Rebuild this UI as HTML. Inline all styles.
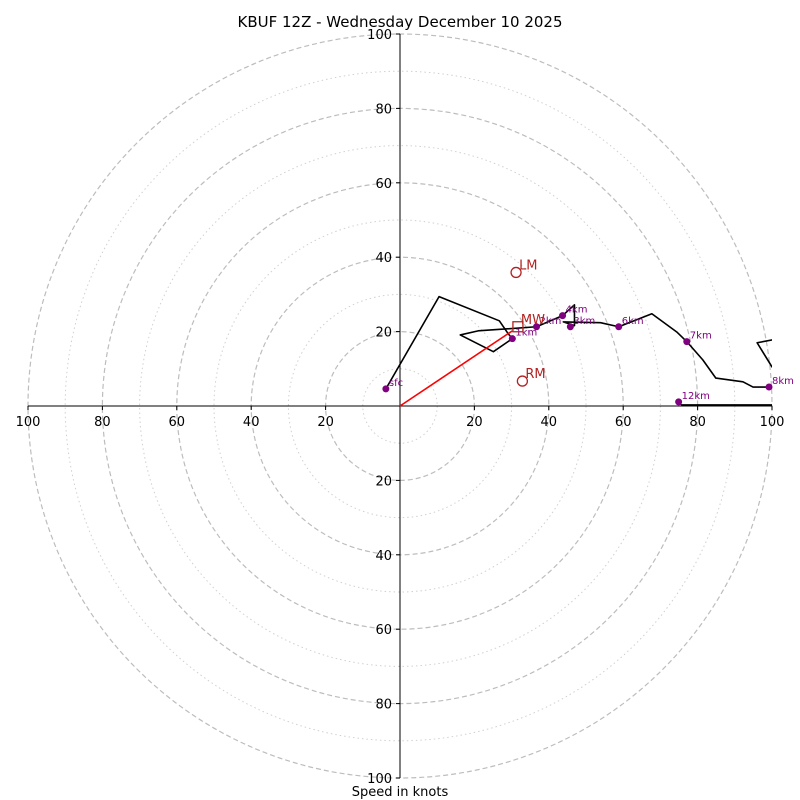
<!DOCTYPE html>
<html><head><meta charset="utf-8"><style>
html,body{margin:0;padding:0;background:#fff;}
svg{display:block;font-family:"DejaVu Sans","Liberation Sans",sans-serif;}
</style></head><body>
<svg id="chart" width="800" height="800" xmlns="http://www.w3.org/2000/svg">
<defs><clipPath id="clip"><rect x="28" y="34" width="744" height="744"/></clipPath></defs>
<text x="400" y="27" text-anchor="middle" font-size="15">KBUF 12Z - Wednesday December 10 2025</text>
<text x="400" y="796" text-anchor="middle" font-size="13">Speed in knots</text>
<g id="rings"></g>
<g id="axes"></g>
<g id="series" clip-path="url(#clip)"></g>
<g id="markers"></g>
</svg>
<script>
const ringValues=[10,20,30,40,50,60,70,80,90,100];
const tickValues=[20,40,60,80,100];
const traceU=[-3.8,10.5,26.7,29.1,30.2,25.1,16.2,21.0,36.7,43.7,46.9,46.9,43.9,53.9,58.8,67.7,74.4,77.1,81.4,84.9,92.2,94.9,99.2,105,105,100,96,100.3,115.9,115.9,75.7,74.9];
const traceV=[4.6,29.4,22.9,19.4,18.1,14.6,19.1,20.2,21.3,24.3,27.2,21.6,22.6,22.4,21.3,24.8,19.9,17.3,12.4,7.5,6.5,5.1,5.1,5.7,12.4,10.5,17,17.8,23,0.3,0.3,1.1];
const levelLabels=["sfc","1km","2km","3km","4km","6km","7km","8km","12km"];
const levelU=[-3.8,30.2,36.7,45.8,43.7,58.8,77.1,99.2,74.9];
const levelV=[4.6,18.1,21.3,21.3,24.3,21.3,17.3,5.1,1.1];
const motionLabels=["LM","RM","MW"];
const motionU=[31.2,32.9,31.7];
const motionV=[35.9,6.7,21.3];
const shearU=[0,30.2];
const shearV=[0,20.2];

const cx=400,cy=406,k=3.72;
const sx=u=>cx+u*k, sy=v=>cy-v*k;
const NS="http://www.w3.org/2000/svg";
function mk(tag,parent,attrs){const e=document.createElementNS(NS,tag);for(const a in attrs)e.setAttribute(a,attrs[a]);parent.appendChild(e);return e;}
const rings=document.getElementById('rings'),axes=document.getElementById('axes'),series=document.getElementById('series'),markers=document.getElementById('markers');
ringValues.forEach(r=>{
  const dashed=r%20===0;
  const c=mk('circle',rings,{cx:cx,cy:cy,r:r*k,fill:'none',stroke:dashed?'#bdbdbd':'#d0d0d0','stroke-width':dashed?1.2:1,'stroke-dasharray':dashed?'5,3':'1.5,3'});
  
  
});
let l=mk('line',axes,{x1:sx(-100),y1:cy,x2:sx(100),y2:cy,stroke:'#000','stroke-width':1});


l=mk('line',axes,{x1:cx,y1:sy(100),x2:cx,y2:sy(-100),stroke:'#000','stroke-width':1});


tickValues.forEach(t=>{
  [1,-1].forEach(s=>{
    let tk=mk('line',axes,{x1:sx(s*t),y1:cy,x2:sx(s*t),y2:cy+4,stroke:'#000'});
    
    
    let tx=mk('text',axes,{x:sx(s*t),y:cy+20,'text-anchor':'middle','font-size':13});
    tx.textContent=t;
    
    
    tk=mk('line',axes,{x1:cx-4,y1:sy(s*t),x2:cx,y2:sy(s*t),stroke:'#000'});
    
    
    tx=mk('text',axes,{x:cx-8,y:sy(s*t)+5,'text-anchor':'end','font-size':13});
    tx.textContent=t;
    
    
  });
});
let pts=traceU.map((u,i)=>sx(u)+','+sy(traceV[i])).join(' ');
let pl=mk('polyline',series,{points:pts,fill:'none',stroke:'#000','stroke-width':1.6,'stroke-linejoin':'round'});


let sh=mk('line',series,{x1:sx(shearU[0]),y1:sy(shearV[0]),x2:sx(shearU[1]),y2:sy(shearV[1]),stroke:'#f00','stroke-width':1.6});


levelLabels.forEach((lab,i)=>{
  const p=mk('circle',markers,{cx:sx(levelU[i]),cy:sy(levelV[i]),r:3.5,fill:'#800080'});
  
  
  const t=mk('text',markers,{x:sx(levelU[i])+3,y:sy(levelV[i])-3,'font-size':10,fill:'#800080'});
  t.textContent=lab;
  
  
});
motionLabels.forEach((lab,i)=>{
  const x=sx(motionU[i]),y=sy(motionV[i]);
  let m;
  if(lab==='MW') m=mk('rect',markers,{x:x-5,y:y-5,width:10,height:10,fill:'none',stroke:'#b22222','stroke-width':1.3});
  else m=mk('circle',markers,{cx:x,cy:y,r:5,fill:'none',stroke:'#b22222','stroke-width':1.3});
  
  
  const t=mk('text',markers,{x:x+3,y:y-3,'font-size':13,fill:'#b22222'});
  t.textContent=lab;
  
  
});
</script>
</body></html>
